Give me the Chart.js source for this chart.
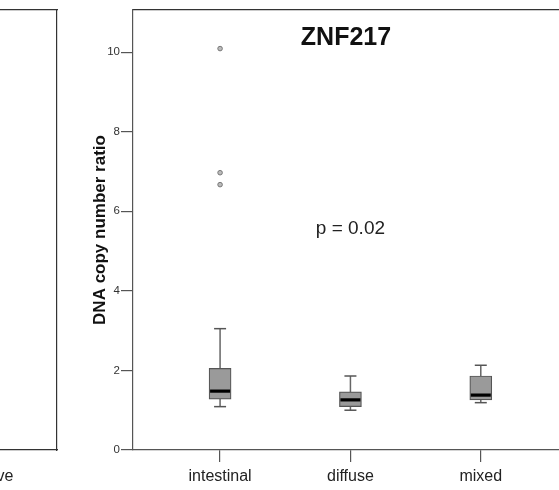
<!DOCTYPE html>
<html lang="en">
<head>
    <meta charset="UTF-8">
    <title>ZNF217 copy number by histology</title>
    <style>
        body { margin: 0; background: #fff; overflow: hidden; }
        #wrap { position: relative; width: 559px; height: 490px; overflow: hidden; }
        #leftPanel { position: absolute; left: -200px; top: 0; }
        #mainChart { position: absolute; left: 0; top: 0; }
    </style>
</head>
<body>
    <div id="wrap">
        <canvas id="leftPanel" width="258" height="490"></canvas>
        <canvas id="mainChart" width="559" height="490"></canvas>
    </div>

    <script src="https://cdn.jsdelivr.net/npm/chart.js"></script>
    <script>
        // data
        const categories = ['intestinal', 'diffuse', 'mixed'];
        const whiskerLow  = [1.09, 1.00, 1.19];
        const q1          = [1.28, 1.09, 1.26];
        const median      = [1.48, 1.26, 1.38];
        const q3          = [2.05, 1.46, 1.86];
        const whiskerHigh = [3.05, 1.86, 2.13];
        const outlierGroup = [1, 1, 1];
        const outlierValue = [10.09, 6.97, 6.67];
        const yTicks = [0, 2, 4, 6, 8, 10];
        const pText = 'p = 0.02';
        const titleText = 'ZNF217';
        const leftPanelLabel = 'positive';

        const FONT = '"Liberation Sans", Arial, Helvetica, sans-serif';
        const axisColor = '#555';

        const pos = categories.map((c, i) => i + 1);

        // whisker lines, one segment per group, broken by nulls
        const whiskerData = [];
        pos.forEach((x, i) => {
            whiskerData.push({ x: x, y: whiskerLow[i] });
            whiskerData.push({ x: x, y: whiskerHigh[i] });
            whiskerData.push({ x: x, y: null });
        });
        const capData = [];
        pos.forEach((x, i) => {
            capData.push({ x: x, y: whiskerLow[i] });
            capData.push({ x: x, y: whiskerHigh[i] });
        });

        const textPlugin = {
            id: 'panelText',
            afterDraw(chart) {
                const ctx = chart.ctx;
                const area = chart.chartArea;
                const xs = chart.scales.x, ys = chart.scales.y;
                ctx.save();
                ctx.fillStyle = '#111';
                ctx.textAlign = 'center';
                ctx.textBaseline = 'middle';
                ctx.font = 'bold 25px ' + FONT;
                ctx.fillText(titleText, (area.left + area.right) / 2, area.top + 28);
                ctx.font = '19px ' + FONT;
                ctx.fillStyle = '#222';
                ctx.fillText(pText, xs.getPixelForValue(2), ys.getPixelForValue(5.55));
                ctx.restore();
            }
        };

        new Chart(document.getElementById('mainChart'), {
            data: {
                datasets: [
                    {
                        type: 'scatter',
                        data: whiskerData,
                        showLine: true,
                        spanGaps: false,
                        borderColor: '#666',
                        borderWidth: 1.5,
                        pointRadius: 0,
                        order: 4
                    },
                    {
                        type: 'bar',
                        data: pos.map((x, i) => ({ x: x, y: [q1[i], q3[i]] })),
                        backgroundColor: '#9a9a9a',
                        borderColor: '#555',
                        borderWidth: 1.2,
                        borderSkipped: false,
                        barThickness: 22,
                        order: 3
                    },
                    {
                        type: 'scatter',
                        data: capData,
                        pointStyle: 'line',
                        pointRadius: 6,
                        borderColor: '#555',
                        borderWidth: 1.5,
                        order: 2
                    },
                    {
                        type: 'scatter',
                        data: pos.map((x, i) => ({ x: x, y: median[i] })),
                        pointStyle: 'line',
                        pointRadius: 10,
                        borderColor: '#000',
                        borderWidth: 3.2,
                        order: 1
                    },
                    {
                        type: 'scatter',
                        data: outlierValue.map((v, i) => ({ x: outlierGroup[i], y: v })),
                        pointStyle: 'circle',
                        pointRadius: 2.3,
                        backgroundColor: '#bbb',
                        borderColor: '#777',
                        borderWidth: 1,
                        order: 0
                    }
                ]
            },
            options: {
                responsive: false,
                animation: false,
                layout: { autoPadding: false, padding: { top: 10, right: 0, left: 0, bottom: 0 } },
                plugins: { legend: { display: false }, tooltip: { enabled: false } },
                scales: {
                    x: {
                        type: 'linear',
                        position: 'bottom',
                        offset: false,
                        min: 0.332,
                        max: 3.6,
                        afterBuildTicks: s => { s.ticks = pos.map(v => ({ value: v })); },
                        afterFit: s => { s.height = 40; s.paddingRight = 0; s.paddingLeft = 0; },
                        grid: { drawOnChartArea: false, offset: false, color: axisColor, tickLength: 12, lineWidth: 1.2 },
                        border: { color: axisColor, width: 1.2 },
                        ticks: {
                            callback: v => categories[v - 1],
                            font: { family: FONT, size: 16 },
                            color: '#222',
                            padding: 5,
                            maxRotation: 0,
                            autoSkip: false
                        }
                    },
                    xTop: {
                        type: 'linear',
                        position: 'top',
                        display: true,
                        afterFit: s => { s.height = 0; s.paddingRight = 0; s.paddingLeft = 0; },
                        grid: { display: false },
                        ticks: { display: false },
                        border: { color: '#333', width: 1.2 }
                    },
                    y: {
                        type: 'linear',
                        min: 0,
                        max: 11.06,
                        afterBuildTicks: s => { s.ticks = yTicks.map(v => ({ value: v })); },
                        afterFit: s => { s.width = 133; },
                        grid: { drawOnChartArea: false, color: axisColor, tickLength: 12, lineWidth: 1.2 },
                        border: { color: axisColor, width: 1.2 },
                        ticks: {
                            font: { family: FONT, size: 11.5 },
                            color: '#333',
                            padding: 1
                        },
                        title: {
                            display: true,
                            text: 'DNA copy number ratio',
                            font: { family: FONT, size: 17, weight: 'bold' },
                            color: '#111',
                            padding: { top: 90, bottom: 0 }
                        }
                    }
                }
            },
            plugins: [textPlugin]
        });

        // neighbouring panel, mostly outside the picture
        new Chart(document.getElementById('leftPanel'), {
            type: 'scatter',
            data: { datasets: [{ data: [] }] },
            options: {
                responsive: false,
                animation: false,
                layout: { autoPadding: false, padding: { top: 10, right: 1, left: 0, bottom: 0 } },
                plugins: { legend: { display: false }, tooltip: { enabled: false } },
                scales: {
                    x: {
                        type: 'linear',
                        min: 0,
                        max: 1,
                        afterBuildTicks: s => { s.ticks = [{ value: 0.725 }]; },
                        afterFit: s => { s.height = 40; },
                        grid: { drawOnChartArea: false, color: axisColor, tickLength: 12 },
                        border: { color: '#333', width: 1.2 },
                        ticks: {
                            callback: () => leftPanelLabel,
                            font: { family: FONT, size: 16 },
                            color: '#222',
                            padding: 5,
                            maxRotation: 0
                        }
                    },
                    xTop: {
                        type: 'linear', position: 'top',
                        afterFit: s => { s.height = 0; },
                        grid: { display: false }, ticks: { display: false },
                        border: { color: '#333', width: 1.2 }
                    },
                    y: { display: false, min: 0, max: 11.06 },
                    yRight: {
                        type: 'linear', position: 'right',
                        afterFit: s => { s.width = 0; },
                        grid: { display: false }, ticks: { display: false },
                        border: { color: '#333', width: 1.2 }
                    }
                }
            }
        });
    </script>
</body>
</html>
